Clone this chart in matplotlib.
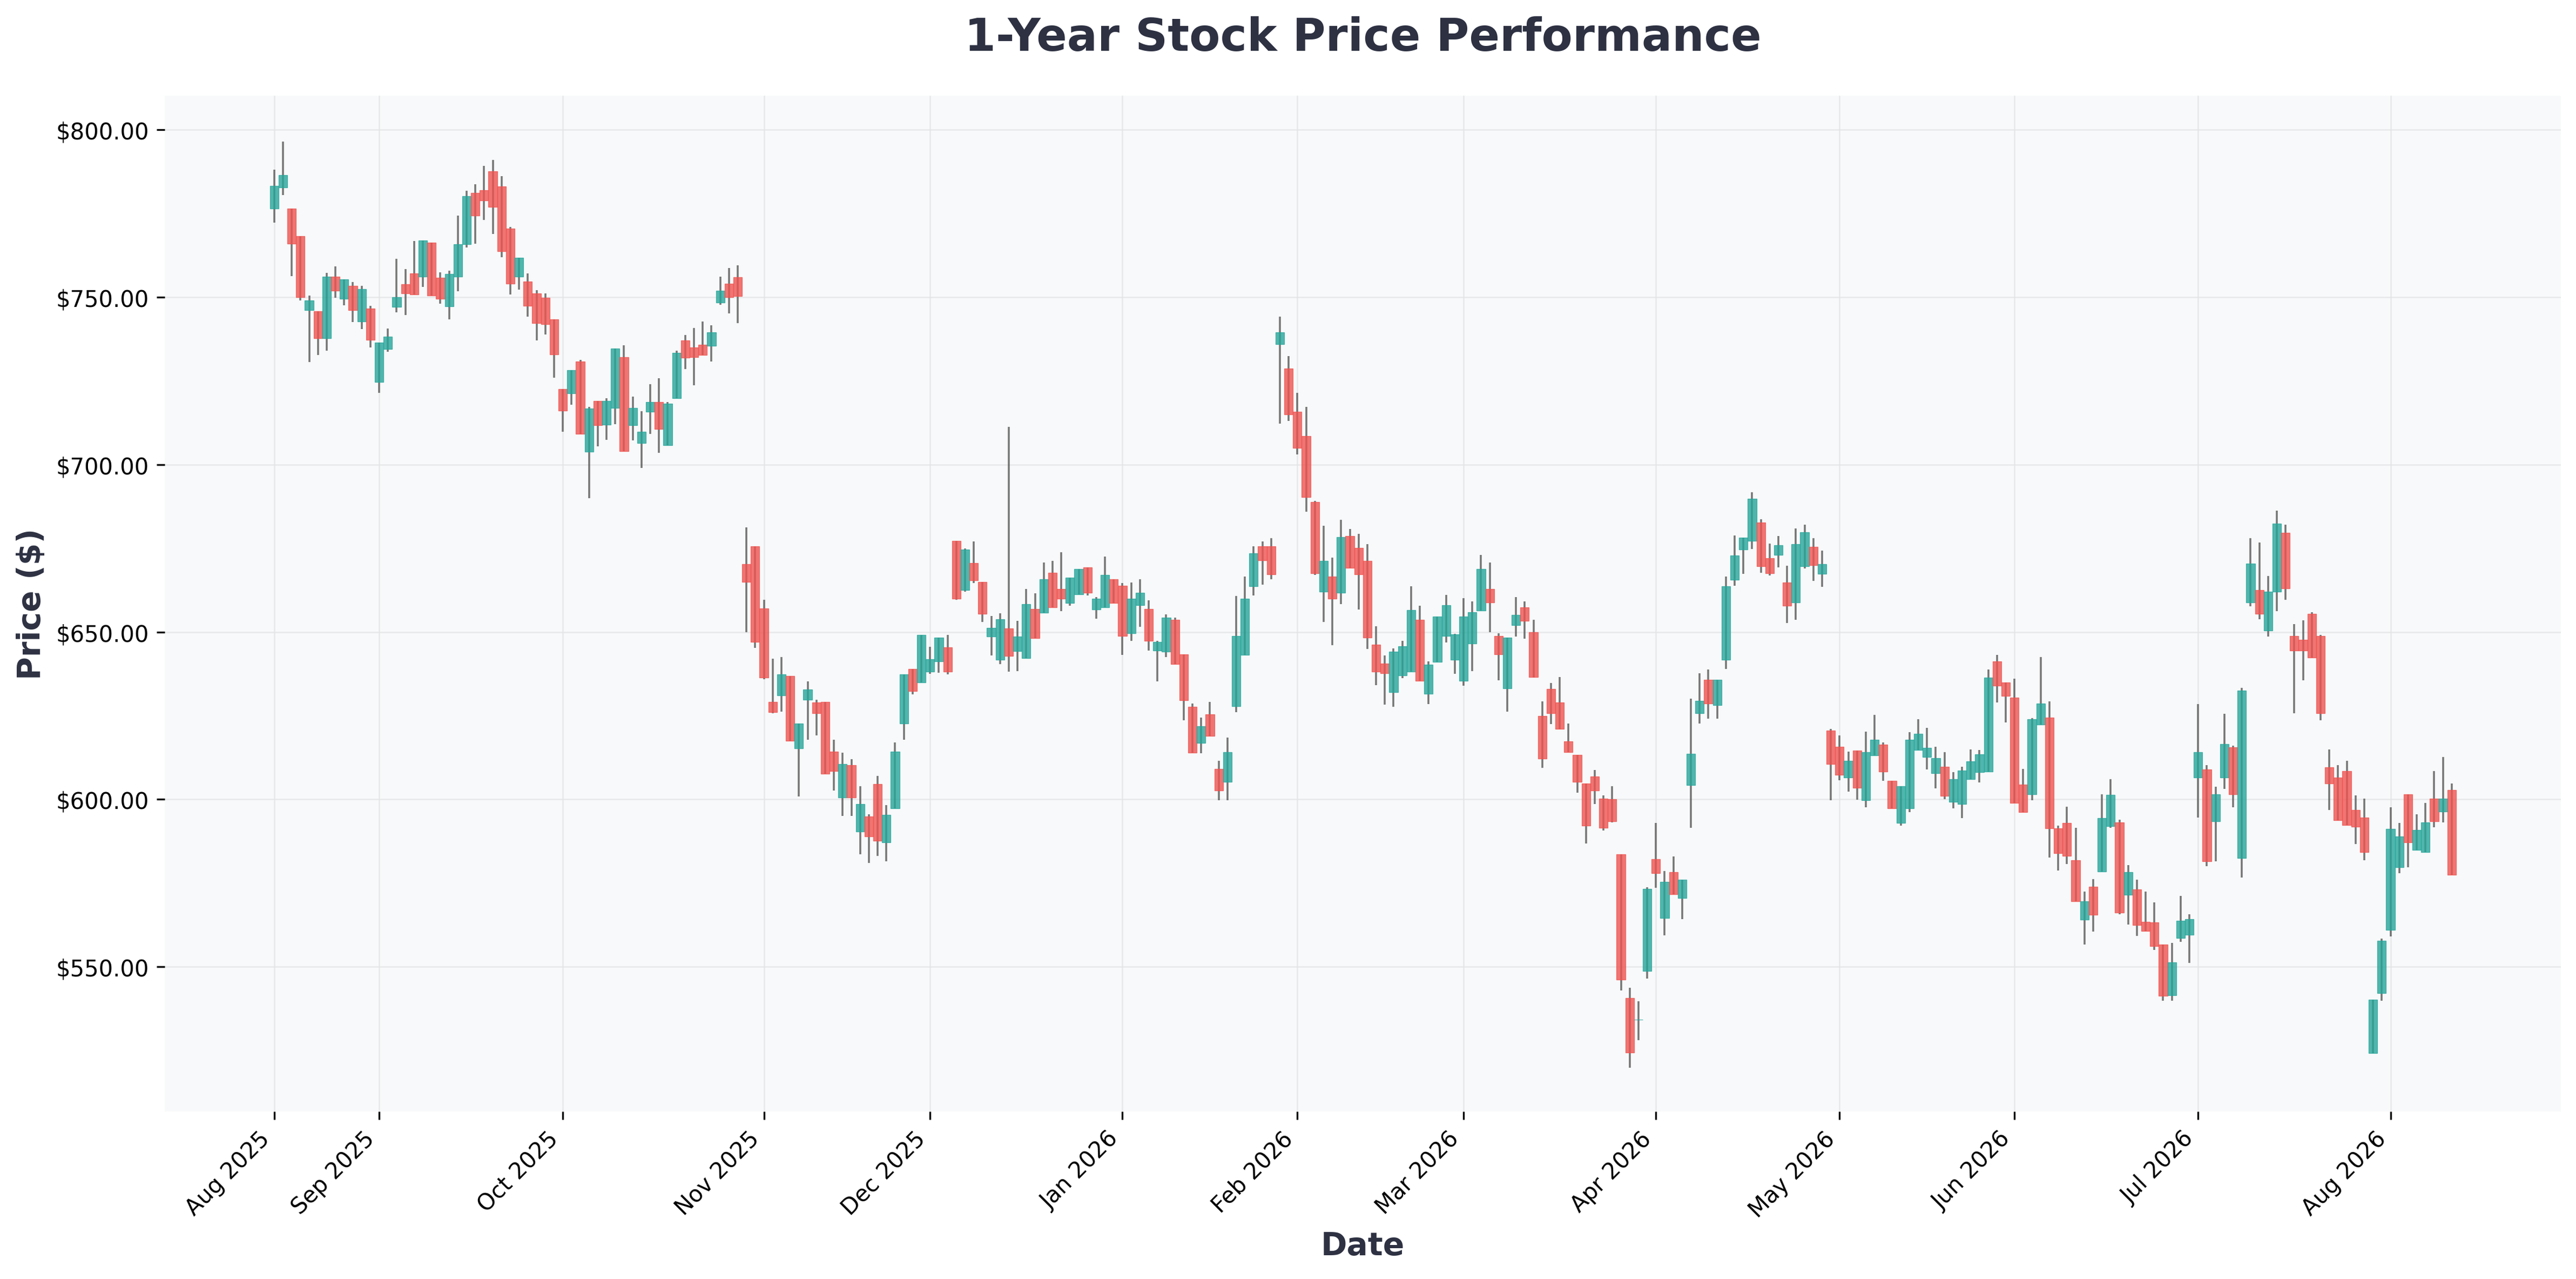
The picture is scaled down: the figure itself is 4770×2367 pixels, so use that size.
import matplotlib
matplotlib.use("Agg")
import matplotlib.pyplot as plt
import numpy as np
from matplotlib.ticker import FuncFormatter

ohlc = [
(776.5,788.2,772.3,783.3),(782.8,796.6,780.5,786.6),(776.5,776.5,756.3,766.1),(768.3,768.3,749.0,750.1),
(746.2,750.5,730.6,749.0),(745.9,745.9,732.8,737.8),(737.8,757.3,734.0,756.1),(756.1,759.2,749.9,752.0),
(749.5,755.4,747.6,755.4),(753.5,754.5,742.6,746.1),(742.7,753.4,740.5,752.4),(746.6,747.4,735.1,737.3),
(724.7,736.4,721.5,736.4),(734.6,740.6,733.8,738.3),(747.2,761.5,745.5,750.0),(753.9,758.4,744.7,751.1),
(757.2,766.9,750.9,750.9),(756.2,767.0,753.1,767.0),(766.4,766.4,750.6,750.6),(755.9,757.4,748.1,749.6),
(747.3,757.9,743.4,756.9),(756.2,774.4,751.8,765.9),(765.8,781.8,764.9,780.3),(781.2,783.7,766.0,774.4),
(782.0,789.2,773.1,778.9),(787.7,791.1,768.9,777.0),(783.1,786.2,762.0,763.8),(770.6,771.0,750.9,754.1),
(756.2,761.9,752.3,761.9),(754.8,757.1,744.2,747.5),(751.2,752.2,737.2,742.3),(749.9,751.1,738.9,742.0),
(743.4,743.4,726.0,733.0),(722.6,722.6,709.9,716.1),(721.3,728.3,717.9,728.3),(730.9,731.3,709.2,709.2),
(703.8,717.2,690.0,716.8),(719.0,719.0,705.5,711.7),(712.0,719.9,707.4,719.1),(716.9,734.7,712.1,734.7),
(732.1,735.6,704.0,704.0),(711.7,720.3,707.3,716.9),(706.4,715.9,699.1,709.9),(715.8,724.1,709.2,718.7),
(718.7,725.8,703.6,710.7),(705.8,718.8,705.8,718.2),(719.8,734.1,719.8,733.4),(737.2,738.8,728.5,731.9),
(735.1,740.9,723.8,732.1),(735.9,742.7,732.8,732.8),(735.5,741.6,730.8,739.6),(748.5,756.1,747.8,752.0),
(754.0,758.7,745.2,750.1),(756.0,759.6,742.3,750.4),(670.3,681.2,650.0,665.0),(675.7,675.7,645.2,647.0),
(657.1,659.6,635.9,636.4),(629.2,642.0,625.7,626.0),(631.1,642.5,626.2,637.3),(636.9,636.9,617.5,617.5),
(615.2,622.7,600.9,622.7),(629.8,635.3,617.9,632.9),(629.0,629.8,619.2,625.7),(629.2,629.2,607.7,607.7),
(614.3,617.9,602.7,608.5),(600.5,614.0,595.0,610.5),(610.2,612.0,595.0,600.6),(590.4,603.9,583.6,598.7),
(594.9,595.6,581.0,589.0),(604.6,607.0,583.2,587.7),(587.1,598.3,581.5,595.4),(597.4,617.0,597.4,614.3),
(622.7,637.3,617.9,637.3),(638.9,638.9,631.4,632.3),(634.9,649.1,634.9,649.1),(638.2,645.6,637.5,641.9),
(641.2,648.3,637.8,648.3),(645.5,649.2,637.4,638.2),(677.3,677.3,659.6,660.0),(662.6,675.0,662.0,674.6),
(670.6,677.1,664.7,665.4),(665.0,665.0,653.0,655.5),(648.6,654.8,643.0,651.3),(641.8,655.6,640.4,653.9),
(651.1,711.3,638.1,642.8),(644.3,653.4,638.4,648.6),(642.2,662.8,642.2,658.3),(656.9,661.6,648.1,648.1),
(655.7,670.8,655.7,665.7),(667.7,671.3,657.3,657.3),(662.8,673.8,656.3,660.0),(658.6,666.2,657.8,666.2),
(661.3,668.8,661.3,668.8),(669.4,669.4,661.0,661.8),(656.7,660.5,654.0,659.9),(657.3,672.6,657.3,667.1),
(665.8,665.8,658.7,658.7),(663.9,664.7,643.2,648.9),(649.6,664.8,647.4,659.9),(658.1,665.7,651.6,661.8),
(656.9,659.5,644.5,647.3),(644.5,647.4,635.3,647.1),(644.1,655.3,642.6,654.3),(653.7,654.3,640.5,640.5),
(643.3,643.3,623.6,629.6),(627.6,628.6,614.0,614.0),(616.9,624.4,613.8,621.9),(625.4,629.2,618.9,618.9),
(609.1,611.5,599.7,602.6),(605.3,618.4,599.7,614.1),(627.9,660.7,626.1,648.8),(643.2,666.6,643.2,659.9),
(663.7,675.6,660.9,673.6),(675.7,677.0,664.2,671.5),(675.7,678.0,665.7,667.2),(736.0,744.3,712.3,739.6),
(728.7,732.5,713.1,715.0),(715.8,721.5,703.1,705.0),(708.6,717.3,686.0,690.3),(688.9,689.1,667.1,667.5),
(662.1,681.7,653.1,671.3),(666.6,672.2,646.1,659.9),(661.8,683.6,658.3,678.4),(678.7,680.8,669.2,669.2),
(675.2,679.4,656.7,667.2),(671.2,676.2,644.9,648.4),(646.3,651.7,634.1,638.2),(640.6,643.0,628.3,637.7),
(632.1,645.1,627.6,644.2),(637.0,647.3,636.3,645.8),(638.2,663.6,638.2,656.6),(653.7,657.9,635.5,635.5),
(631.6,641.2,628.5,640.3),(641.0,654.7,641.0,654.7),(648.9,661.1,646.9,658.0),(641.8,649.5,637.6,649.3),
(635.5,660.2,634.0,654.6),(646.6,659.2,638.4,656.0),(656.4,673.0,656.4,668.8),(662.9,670.8,649.9,658.9),
(648.9,649.6,635.6,643.3),(633.1,648.4,626.3,648.4),(652.0,660.5,648.6,655.1),(657.4,659.2,648.0,653.3),
(650.0,653.7,636.4,636.6),(625.0,629.3,609.5,612.1),(633.0,634.8,622.5,625.8),(629.0,636.5,621.0,621.0),
(617.3,622.7,614.1,614.1),(613.3,613.3,602.0,605.2),(604.7,604.7,586.9,592.2),(606.9,608.8,598.7,602.7),
(600.3,601.2,590.7,591.5),(600.0,604.0,593.1,593.4),(583.6,583.6,543.0,546.1),(540.7,543.7,519.8,524.3),
(534.2,539.7,528.1,534.2),(548.7,573.8,546.5,573.2),(582.1,592.9,573.6,577.9),(564.6,578.6,559.4,575.4),
(578.3,583.0,571.6,571.6),(570.5,576.1,564.3,576.1),(604.3,630.1,591.5,613.6),(625.7,637.7,622.6,629.5),
(635.7,638.8,624.1,628.6),(628.2,635.7,624.1,635.7),(641.7,666.6,639.0,663.7),(665.6,678.9,663.9,672.8),
(674.6,678.2,667.4,678.2),(677.2,691.8,674.8,689.8),(682.7,683.7,667.7,669.6),(672.1,676.5,666.9,667.5),
(673.0,678.7,669.4,676.0),(664.8,669.8,652.7,657.8),(658.9,681.0,653.6,676.3),(669.7,682.0,669.0,679.8),
(675.5,678.0,665.3,669.9),(667.4,674.4,663.5,670.3),(620.5,621.1,599.7,610.6),(615.8,619.1,605.7,607.3),
(606.5,614.2,602.3,611.5),(614.6,614.6,599.9,603.5),(599.8,620.3,597.7,614.1),(613.2,625.2,613.2,617.8),
(616.3,617.0,605.5,608.3),(605.6,605.6,597.4,597.4),(592.9,604.0,592.1,604.0),(597.3,620.1,596.2,617.8),
(614.7,623.9,614.7,619.6),(612.6,621.4,609.0,615.4),(607.8,615.7,603.3,612.3),(609.8,614.1,600.1,601.1),
(599.2,608.2,597.3,606.1),(598.7,609.8,594.5,608.6),(606.0,615.0,606.0,611.4),(608.1,614.7,605.0,613.4),
(608.3,638.8,608.3,636.4),(641.2,643.1,628.9,633.9),(635.0,635.0,623.0,630.9),(630.5,636.0,599.0,599.0),
(604.5,609.1,596.2,596.2),(601.5,624.3,599.8,624.0),(622.3,642.5,622.3,628.7),(624.5,629.3,582.6,591.4),
(591.3,592.2,578.8,583.9),(592.9,597.8,580.7,583.1),(581.8,591.5,569.6,569.6),(564.1,572.4,556.6,569.5),
(574.0,576.2,560.5,565.5),(578.4,601.6,578.4,594.5),(592.0,606.0,591.5,601.3),(593.1,594.0,565.7,566.2),
(571.5,580.4,562.7,578.2),(573.1,576.0,559.3,562.4),(563.4,572.4,560.7,560.7),(563.2,569.3,555.1,556.1),
(556.6,556.6,539.8,541.3),(541.5,557.1,539.9,551.3),(558.6,571.1,557.5,563.7),(559.5,565.7,551.1,564.3),
(606.5,628.5,594.6,614.1),(609.0,610.2,580.0,581.5),(593.4,603.8,581.5,601.5),(606.5,625.6,603.2,616.6),
(615.6,616.1,597.6,601.6),(582.4,633.4,576.7,632.6),(658.9,678.1,657.7,670.4),(662.6,676.7,653.9,655.4),
(650.5,666.7,648.6,662.1),(662.1,686.3,656.3,682.4),(679.7,682.1,659.7,663.0),(648.8,652.4,625.7,644.5),
(647.7,653.5,635.6,644.4),(655.4,656.0,642.4,642.4),(648.8,649.2,623.7,625.7),(609.6,614.9,596.9,604.7),
(606.5,610.3,593.7,593.7),(608.4,611.5,592.4,592.4),(596.9,601.2,586.6,591.9),(594.6,600.2,581.8,584.2),
(524.2,540.2,524.2,540.2),(542.1,558.4,539.9,557.7),(561.0,597.6,559.0,591.2),(579.7,593.0,577.9,588.9),
(601.5,601.5,579.7,587.2),(584.9,595.5,584.9,590.9),(584.3,599.0,584.3,593.2),(600.2,608.4,591.6,593.5),
(596.4,612.7,593.1,600.2),(602.8,604.7,577.5,577.5),
]
opens = [r[0] for r in ohlc]
highs = [r[1] for r in ohlc]
lows = [r[2] for r in ohlc]
closes = [r[3] for r in ohlc]

tick_idx = [0, 12, 33, 56, 75, 97, 117, 136, 158, 179, 199, 220, 242]
tick_labels = ["Aug 2025", "Sep 2025", "Oct 2025", "Nov 2025", "Dec 2025", "Jan 2026",
               "Feb 2026", "Mar 2026", "Apr 2026", "May 2026", "Jun 2026", "Jul 2026", "Aug 2026"]

UP, DOWN = "#26a69a", "#ef5350"

fig = plt.figure(figsize=(15.903, 7.893), dpi=300)
ax = fig.add_axes([0.064, 0.131, 0.930, 0.794])
ax.set_facecolor("#f8f9fa")

x = np.arange(len(opens))
o = np.array(opens); c = np.array(closes)
colors = [UP if cc >= oo else DOWN for oo, cc in zip(o, c)]
ax.vlines(x, lows, highs, color="#555555", linewidth=0.85, alpha=0.8, zorder=2)
heights = np.abs(c - o)
ax.bar(x, heights, bottom=np.minimum(o, c), width=1.0, color=colors, alpha=0.8,
       edgecolor=colors, linewidth=0.3, zorder=3)

ax.set_xlim(-12.5, 261.5)
ax.set_ylim(506.8, 810.3)
ax.set_xticks(tick_idx)
ax.set_xticklabels(tick_labels, rotation=45, ha="right", fontsize=10)
ax.yaxis.set_major_formatter(FuncFormatter(lambda v, p: f"${v:,.2f}"))
ax.tick_params(axis="y", labelsize=10)
ax.grid(True, color="#e3e4e6", linewidth=0.6, alpha=0.8, zorder=0)
ax.set_axisbelow(True)
for s in ax.spines.values():
    s.set_visible(False)

ax.set_title("1-Year Stock Price Performance", fontsize=20, fontweight="bold", color="#2d3142", pad=20)
ax.set_xlabel("Date", fontsize=14, fontweight="bold", color="#2d3142")
ax.set_ylabel("Price ($)", fontsize=14, fontweight="bold", color="#2d3142")

fig.savefig("out.png", dpi=300, facecolor="white")
